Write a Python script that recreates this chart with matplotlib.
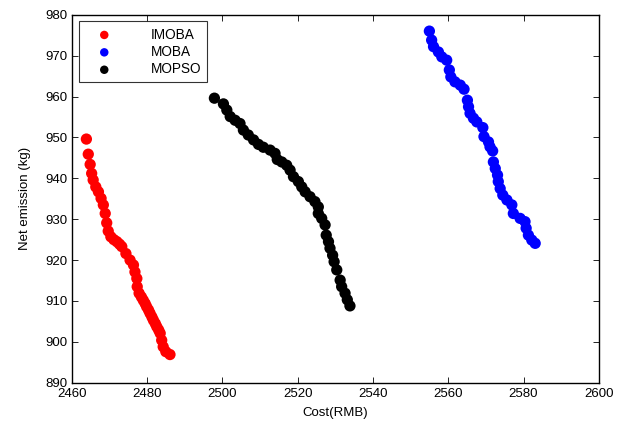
import matplotlib
matplotlib.use("Agg")
import matplotlib.pyplot as plt

# Pareto fronts
imoba_cost = [2463.9, 2464.4, 2464.9, 2465.3, 2465.7, 2466.4, 2467.1, 2467.8, 2468.4,
              2468.9, 2469.3, 2469.7, 2470.4, 2471.2, 2472.0, 2472.7, 2473.3, 2474.4,
              2475.5, 2476.4, 2476.8, 2477.3, 2477.4, 2477.9, 2478.5, 2479.0, 2479.5,
              2479.9, 2480.4, 2480.8, 2481.3, 2481.7, 2482.2, 2482.6, 2483.1, 2483.5,
              2483.9, 2484.3, 2485.0, 2486.1]
imoba_emis = [949.6, 945.9, 943.4, 941.2, 939.6, 937.9, 936.7, 935.1, 933.5,
              931.4, 929.1, 927.1, 925.7, 925.0, 924.5, 923.9, 923.3, 921.6,
              920.0, 918.8, 917.1, 915.5, 913.5, 911.9, 911.0, 910.2, 909.4,
              908.6, 907.8, 907.0, 906.1, 905.3, 904.5, 903.7, 902.9, 902.1,
              900.4, 898.8, 897.6, 896.9]

moba_cost = [2555.0, 2555.6, 2556.1, 2557.4, 2558.3, 2559.6, 2560.3, 2560.7, 2561.8,
             2563.2, 2564.2, 2565.1, 2565.4, 2565.8, 2566.7, 2567.6, 2569.2, 2569.5,
             2570.7, 2571.1, 2571.8, 2572.0, 2572.5, 2573.1, 2573.3, 2573.8, 2574.5,
             2575.6, 2576.9, 2577.3, 2579.1, 2580.4, 2580.7, 2581.3, 2582.2, 2583.1]
moba_emis = [976.0, 973.8, 972.2, 970.9, 969.7, 968.9, 966.5, 964.8, 963.6,
             962.8, 961.8, 959.1, 957.5, 955.9, 954.7, 953.8, 952.4, 950.2,
             948.9, 947.7, 946.7, 944.0, 942.4, 940.8, 939.2, 937.5, 935.9,
             934.7, 933.5, 931.4, 930.2, 929.4, 927.8, 926.1, 924.9, 924.1]

mopso_cost = [2497.9, 2500.3, 2501.2, 2502.1, 2503.4, 2504.7, 2505.6, 2506.9, 2508.3,
              2509.6, 2510.9, 2512.7, 2514.0, 2514.6, 2515.8, 2517.1, 2518.0, 2518.9,
              2520.2, 2521.1, 2522.0, 2523.3, 2524.6, 2525.5, 2525.5, 2526.4, 2527.3,
              2527.6, 2528.2, 2528.6, 2529.3, 2529.7, 2530.4, 2531.3, 2531.7, 2532.6,
              2533.2, 2533.9]
mopso_emis = [959.6, 958.2, 956.7, 955.1, 954.2, 953.4, 951.8, 950.6, 949.4,
              948.3, 947.6, 946.9, 946.1, 944.6, 944.0, 943.2, 942.0, 940.4,
              939.2, 937.9, 936.7, 935.5, 934.3, 933.0, 931.4, 930.2, 928.6,
              926.1, 924.5, 922.9, 921.2, 919.6, 917.6, 915.1, 913.5, 911.9,
              910.3, 908.8]

xticks = [2460, 2480, 2500, 2520, 2540, 2560, 2580, 2600]
yticks = [890, 900, 910, 920, 930, 940, 950, 960, 970, 980]

plt.rcParams.update({
    "font.family": ["Liberation Sans", "DejaVu Sans"],
    "font.size": 9.5,
})

fig = plt.figure(figsize=(6.29, 4.22), dpi=100)
ax = fig.add_axes([0.114, 0.093, 0.838, 0.872])

ms = 66
ax.scatter(imoba_cost, imoba_emis, s=ms, color="#ff0000", edgecolors="none", label="IMOBA", zorder=3)
ax.scatter(moba_cost, moba_emis, s=ms, color="#0000ff", edgecolors="none", label="MOBA", zorder=3)
ax.scatter(mopso_cost, mopso_emis, s=ms, color="#000000", edgecolors="none", label="MOPSO", zorder=3)

ax.set_xlim(2460, 2600)
ax.set_ylim(890, 980)
ax.set_xticks(xticks)
ax.set_yticks(yticks)
ax.tick_params(direction="in", top=True, right=True, length=4, width=0.6,
               labelsize=9.5)
ax.tick_params(axis="x", pad=4)
ax.tick_params(axis="y", pad=3)
for sp in ax.spines.values():
    sp.set_linewidth(1.0)

ax.set_xlabel("Cost(RMB)", fontsize=9.5, labelpad=5)
ax.set_ylabel("Net emission (kg)", fontsize=9.5, labelpad=10)

leg = ax.legend(loc="upper left", bbox_to_anchor=(0.014, 0.982), frameon=True,
                fancybox=False, edgecolor="black", fontsize=9.8,
                handlelength=2.8, handletextpad=2.0, borderpad=0.45,
                labelspacing=0.25, markerscale=0.75, borderaxespad=0)
leg.get_frame().set_linewidth(0.8)

fig.savefig("out.png", dpi=100)
